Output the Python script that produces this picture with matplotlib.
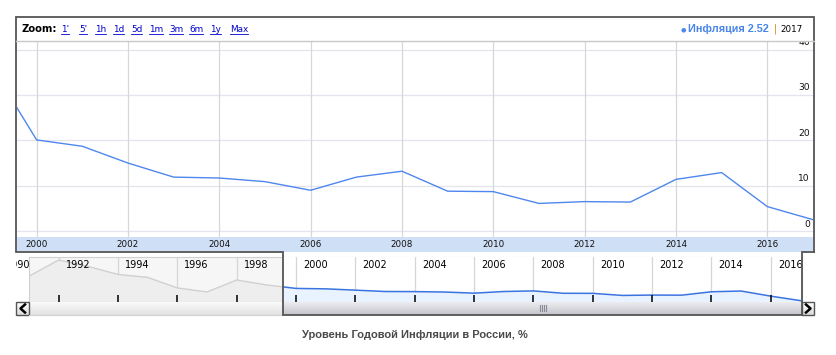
import matplotlib
matplotlib.use('Agg')
import matplotlib.pyplot as plt
from matplotlib.patches import Rectangle
from matplotlib.colors import LinearSegmentedColormap
import numpy as np

# annual inflation in Russia, %
years = list(range(1991, 2018))
inflation = [160.0, 2508.8, 839.9, 215.1, 131.3, 21.8, 11.0, 84.4, 36.5,
             20.1, 18.7, 15.0, 11.9, 11.7, 10.9, 9.0, 11.9, 13.2, 8.8,
             8.7, 6.1, 6.5, 6.4, 11.4, 12.9, 5.4, 2.52]

view_start, view_end = 1999.57, 2017.0
main_yticks = [0, 10, 20, 30, 40]
main_xticks = list(range(2000, 2017, 2))
nav_xticks = list(range(1990, 2017, 2))
zoom_links = ["1'", "5'", "1h", "1d", "5d", "1m", "3m", "6m", "1y", "Max"]
series_name = 'Инфляция'
title = 'Уровень Годовой Инфляции в России, %'

BLUE = '#4f87ee'
W, H = 836, 355
fig = plt.figure(figsize=(W / 100, H / 100), dpi=100)


def px_axes(x0, y0, x1, y1, **kw):
    return fig.add_axes([x0 / W, 1 - y1 / H, (x1 - x0) / W, (y1 - y0) / H], **kw)


def bare(ax):
    ax.set_xticks([])
    ax.set_yticks([])
    for s in ax.spines.values():
        s.set_visible(False)


# overlay in pixel coords for frame, header and decorations
ov = px_axes(0, 0, W, H, zorder=10)
ov.axis('off')
ov.patch.set_visible(False)

# ---- main chart
ax = px_axes(17, 41, 813, 237)
bare(ax)
ax.plot(years, inflation, color=BLUE, lw=1.0, zorder=3)
ax.set_xlim(view_start, view_end)
ax.set_ylim(-1.3, 41.9)
for v in main_yticks:
    ax.axhline(v, color='#e4e4ee', lw=0.9, zorder=1)
    ax.annotate(str(v), xy=(1, v), xycoords=('axes fraction', 'data'),
                xytext=(-3, 7), textcoords='offset pixels', ha='right',
                va='center', fontsize=6.6, color='#111111', clip_on=True,
                annotation_clip=False)
for yr in main_xticks:
    ax.axvline(yr, color='#d3dad3', lw=0.9, zorder=1)

# date band under the main chart
axb = px_axes(17, 237, 813, 252)
bare(axb)
axb.set_facecolor('#cfe0f6')
axb.set_xlim(view_start, view_end)
axb.set_ylim(0, 1)
for yr in main_xticks:
    axb.text(yr, 0.5, str(yr), ha='center', va='center', fontsize=6.3,
             color='#111111')

# ---- navigator
axn = px_axes(29, 257, 802, 302)
axn.set_yscale('log')
axn.set_facecolor('white')
for s in axn.spines.values():
    s.set_color('#d0d0d0')
axn.set_yticks([])
axn.minorticks_off()
axn.set_xticks(nav_xticks)
axn.tick_params(axis='x', direction='in', length=5, width=1.1, color='black',
                labelbottom=False)
axn.xaxis.set_zorder(7)
axn.set_xlim(1991, 2017.05)
axn.set_ylim(2.0, 4200)
axn.axvspan(1991, view_start, color='#f6f6f6', zorder=0)
for yr in nav_xticks:
    axn.axvline(yr, color='#d6d6d6', lw=0.9, zorder=1)

clip_win = Rectangle((view_start, 0.1), view_end + 1 - view_start, 1e6,
                     transform=axn.transData)
axn.fill_between(years, inflation, 0.5, color='#eeeeee', lw=0, zorder=2)
axn.plot(years, inflation, color='#d0d0d0', lw=1.0, zorder=3)
axn.add_patch(Rectangle((view_start, 0.1), view_end + 1 - view_start, 1e6,
                        facecolor='white', edgecolor='none', zorder=3.5))
for yr in nav_xticks:
    if yr > view_start:
        axn.axvline(yr, color='#d6d6d6', lw=0.9, zorder=3.6)
f = axn.fill_between(years, inflation, 0.5, color='#e8f3ff', lw=0, zorder=4)
f.set_clip_path(clip_win)
ln, = axn.plot(years, inflation, color='#3a74e0', lw=1.1, zorder=5)
ln.set_clip_path(clip_win)
axn.set_xlim(1991, 2017.05)
axn.set_ylim(2.0, 4200)

ov.set_xlim(0, W)
ov.set_ylim(H, 0)
label_clip = Rectangle((16, 253), 802 - 16, 50, transform=ov.transData)
for yr in nav_xticks:
    t = axn.annotate(str(yr), xy=(yr, 1), xycoords=('data', 'axes fraction'),
                     xytext=(7, -8), textcoords='offset pixels', ha='left',
                     va='center', fontsize=7, color='black', zorder=6,
                     annotation_clip=False)
    t.set_clip_path(label_clip)

# scrollbar
grad = np.linspace(0, 1, 20).reshape(-1, 1)
ov.imshow(grad, cmap=LinearSegmentedColormap.from_list('trk', ['#fafafa', '#e2e2e2']),
          extent=(29, 283, 315, 302), aspect='auto')
ov.imshow(grad, cmap=LinearSegmentedColormap.from_list('thm', ['#ececf0', '#c4c4cc']),
          extent=(283, 802, 315, 302), aspect='auto')
ov.imshow(grad, cmap=LinearSegmentedColormap.from_list('btn', ['#ffffff', '#dcdcdc']),
          extent=(16, 29, 315, 302), aspect='auto')
ov.imshow(grad, cmap=LinearSegmentedColormap.from_list('btn2', ['#ffffff', '#dcdcdc']),
          extent=(802, 814, 315, 302), aspect='auto')
ov.set_xlim(0, W)
ov.set_ylim(H, 0)
for gx in [540, 542, 544, 546]:
    ov.plot([gx, gx], [305, 311], color='#8a8a96', lw=0.8)
ov.plot([29, 283], [315, 315], color='#d0d0d0', lw=0.8)
ov.add_patch(Rectangle((16, 302), 13, 13, fill=False, edgecolor='#555555', lw=1.0))
ov.add_patch(Rectangle((802, 302), 12, 13, fill=False, edgecolor='#555555', lw=1.0))
ov.plot([25, 20.5, 25], [304.5, 308.5, 312.5], color='black', lw=1.8)
ov.plot([806, 810.5, 806], [304.5, 308.5, 312.5], color='black', lw=1.8)

# dark frame of the component
ov.plot([814, 814, 16, 16, 283, 283, 802, 802, 814],
        [252, 17, 17, 252, 252, 315, 315, 252, 252],
        color='#555555', lw=1.3, solid_joinstyle='miter')

# header
ov.plot([16, 814], [41, 41], color='#c8c8c8', lw=1.0)
ov.text(22, 29, 'Zoom:', fontsize=7.2, fontweight='bold', ha='left',
        va='center', color='black')
link_x = [61, 79, 95, 113, 131, 149, 169, 189, 210, 230]
link_texts = [ov.text(x, 29, s, fontsize=6.4, ha='left', va='center',
                      color='#0000cc') for x, s in zip(link_x, zoom_links)]
ov.text(683, 29.5, '●', fontsize=4.5, ha='center', va='center', color=BLUE)
ov.text(688, 29, f'{series_name} {inflation[-1]:.2f}', fontsize=7.8,
        fontweight='bold', family='Liberation Sans', ha='left', va='center',
        color='#4a86e8')
ov.text(775, 29, '|', fontsize=7, ha='center', va='center', color='#c98a00')
ov.text(803, 29, str(years[-1]), fontsize=6.3, ha='right', va='center',
        color='black')

# title
ov.text(415, 335, title, fontsize=8, fontweight='bold', family='Liberation Sans',
        ha='center', va='center', color='#4a4a4a')

# underline the zoom links
fig.canvas.draw()
r = fig.canvas.get_renderer()
for t in link_texts:
    bb = t.get_window_extent(r)
    ov.plot([bb.x0, bb.x1], [33.5, 33.5], color='#0000cc', lw=0.6)
ov.set_xlim(0, W)
ov.set_ylim(H, 0)

fig.savefig('out.png', dpi=100)
